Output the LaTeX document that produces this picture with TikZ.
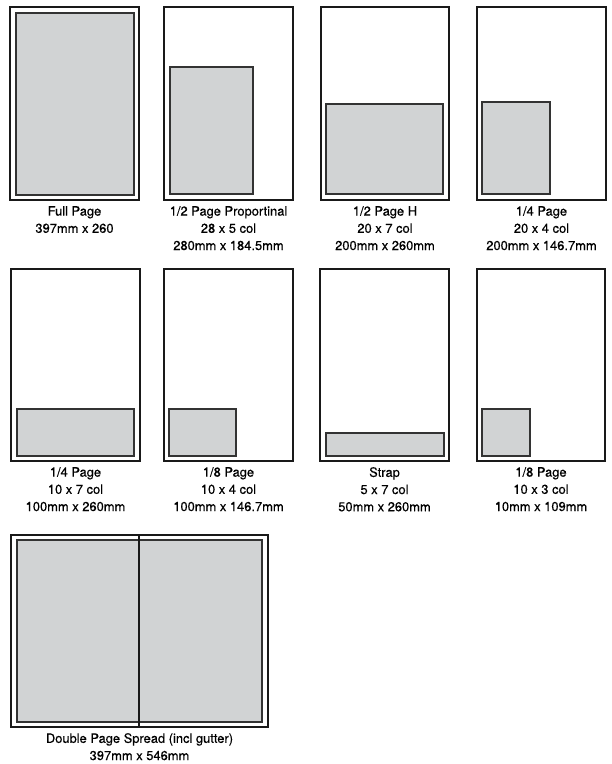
\documentclass[tikz,border=0pt]{standalone}
\usepackage{fontspec}
\setmainfont{TeX Gyre Heros}
\newfontfamily\capfont{TeX Gyre Heros}[FakeBold=0.4]
\definecolor{adgrey}{HTML}{D1D3D4}
\tikzset{
  page/.style={draw=black!90, line width=1.6pt},
  ad/.style={draw=black!80, fill=adgrey, line width=1.1pt},
  caption/.style={anchor=north, align=center, inner sep=0pt,
    font=\capfont\fontsize{12.9}{17.2}\selectfont}
}
\begin{document}
\begin{tikzpicture}[x=1pt,y=-1pt]
    \useasboundingbox (0,0) rectangle (612,764);

    % first row
    \draw[page] (10,7) rectangle (139,200);
    \draw[ad] (16,13) rectangle (134,195);
    \node[caption] (fullcap) at (74.5,206) {Full Page\\397mm x 260};

    \draw[page] (164,7) rectangle (293,200);
    \draw[ad] (170,67) rectangle (253,194);
    \node[caption] (propcap) at (228.5,206) {1/2 Page Proportinal\\28 x 5 col\\280mm x 184.5mm};

    \draw[page] (321,7) rectangle (449,200);
    \draw[ad] (326,104) rectangle (443,194);
    \node[caption] (halfhcap) at (385,206) {1/2 Page H\\20 x 7 col\\200mm x 260mm};

    \draw[page] (477,7) rectangle (606,200);
    \draw[ad] (482,102) rectangle (550,194);
    \node[caption] (quartercap) at (541.5,206) {1/4 Page\\20 x 4 col\\200mm x 146.7mm};

    % second row
    \draw[page] (11,269) rectangle (140,461);
    \draw[ad] (17,409) rectangle (134,456);
    \node[caption] (quarterhcap) at (75.5,467) {1/4 Page\\10 x 7 col\\100mm x 260mm};

    \draw[page] (164,269) rectangle (293,461);
    \draw[ad] (169,409) rectangle (236,456);
    \node[caption] (eighthcap) at (228.5,467) {1/8 Page\\10 x 4 col\\100mm x 146.7mm};

    \draw[page] (320,269) rectangle (449,461);
    \draw[ad] (326,433) rectangle (444,456);
    \node[caption] (strapcap) at (384.5,467) {Strap\\5 x 7 col\\50mm x 260mm};

    \draw[page] (477,269) rectangle (605,461);
    \draw[ad] (482,409) rectangle (530,456);
    \node[caption] (eighthvcap) at (541,467) {1/8 Page\\10 x 3 col\\10mm x 109mm};

    % double page spread
    \draw[page] (11,535) rectangle (268,727);
    \draw[ad] (17,540) rectangle (262,722);
    \draw[page] (139,535) -- (139,727);
    \node[caption] (spreadcap) at (139.5,733) {Double Page Spread (incl gutter)\\397mm x 546mm};
\end{tikzpicture}
\end{document}
